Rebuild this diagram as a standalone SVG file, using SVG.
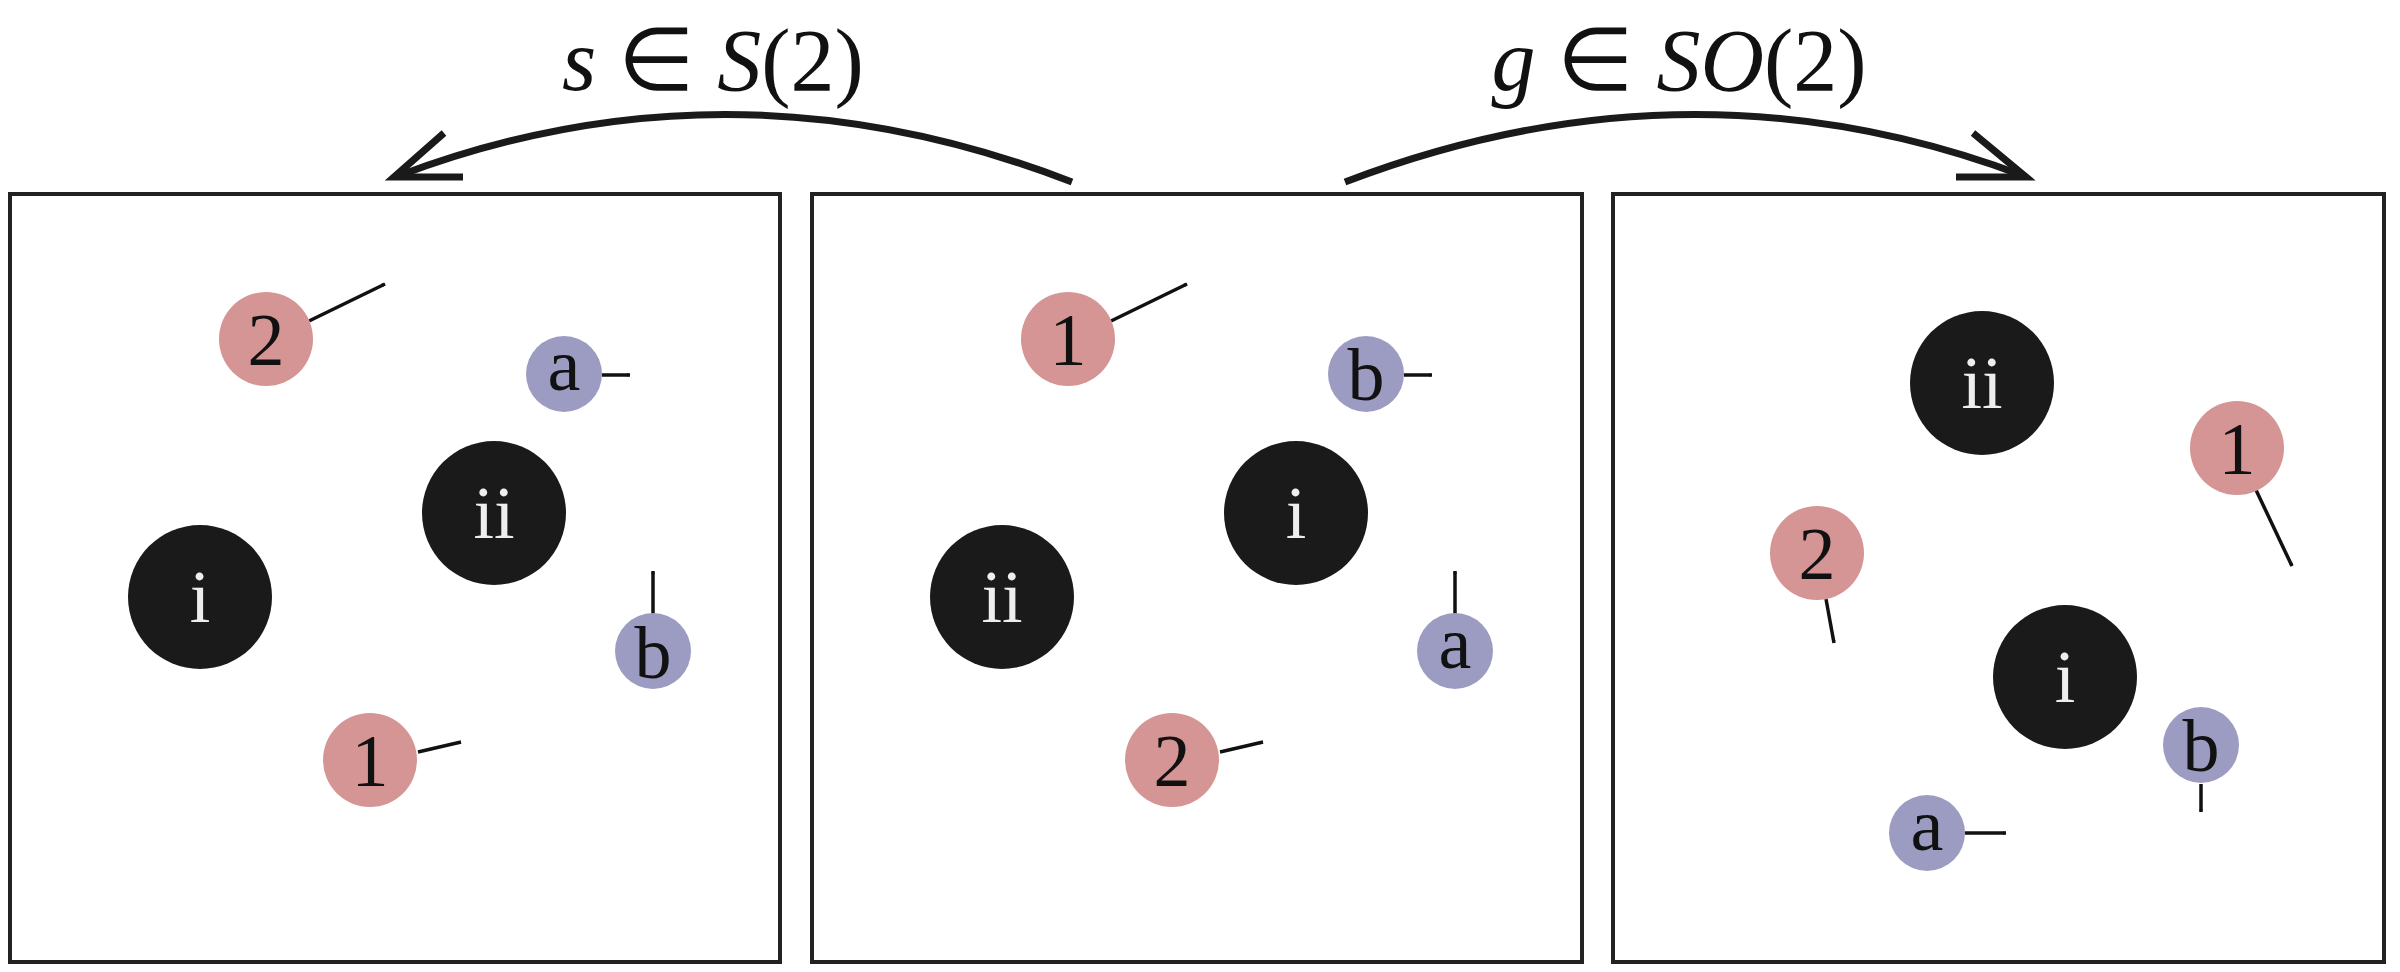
<svg xmlns="http://www.w3.org/2000/svg" width="2400" height="972" viewBox="0 0 2400 972">
<style>
.panel{fill:#fff;stroke:#222;stroke-width:4}
.pk{fill:#D49594}.bl{fill:#9C9CC2}.bk{fill:#1A1A1A}
.t{font-family:"Liberation Serif",serif;font-size:74px;text-anchor:middle;fill:#111}
.w{fill:#eee}
.v{stroke:#111;stroke-width:3.5;fill:none;marker-end:url(#ah)}
.big{stroke:#1a1a1a;stroke-width:7;fill:none}
.lab{font-family:"Liberation Serif",serif;font-size:88px;fill:#111;text-anchor:middle}
</style>
<defs>
<marker id="ah" viewBox="0 0 10 10" refX="9" refY="5" markerWidth="4" markerHeight="4" orient="auto" markerUnits="userSpaceOnUse">
<path d="M2,1 L9,5 L2,9" fill="none" stroke="#111" stroke-width="2"/>
</marker>
</defs>
<rect width="2400" height="972" fill="#fff"/>
<rect class="panel" x="10" y="194" width="770" height="768"/>
<rect class="panel" x="812" y="194" width="770" height="768"/>
<rect class="panel" x="1613" y="194" width="771" height="768"/>
<g id="connectors">
<path class="big" d="M1072,182 Q731,50 398,176"/>
<path class="big" d="M444,133 L394,177 L463,177"/>
<path class="big" d="M1345,182 Q1690,50 2024,176"/>
<path class="big" d="M1973,133 L2026,177 L1956,177"/>
<text class="lab" x="713" y="90"><tspan font-style="italic">s</tspan> ∈ <tspan font-style="italic">S</tspan>(2)</text>
<text class="lab" x="1679" y="90"><tspan font-style="italic">g</tspan> ∈ <tspan font-style="italic">SO</tspan>(2)</text>
<!-- panel 1 -->
<path class="v" d="M309,321 L385,284"/>
<path class="v" d="M602,375 L630,375"/>
<path class="v" d="M653,614 L653,571"/>
<path class="v" d="M418,752 L461,742"/>
<!-- panel 2 -->
<path class="v" d="M1111,321 L1187,284"/>
<path class="v" d="M1404,375 L1432,375"/>
<path class="v" d="M1455,614 L1455,571"/>
<path class="v" d="M1220,752 L1263,742"/>
<!-- panel 3 -->
<path class="v" d="M2256,490 L2292,566"/>
<path class="v" d="M1826,599 L1834,643"/>
<path class="v" d="M2201,784 L2201,812"/>
<path class="v" d="M1965,833 L2006,833"/>
</g>
<g id="p1-2"><circle class="pk" cx="266" cy="339" r="47"/><text class="t" x="266" y="365">2</text></g>
<g id="p1-a"><circle class="bl" cx="564" cy="374" r="38"/><text class="t" x="564" y="390">a</text></g>
<g id="p1-ii"><circle class="bk" cx="494" cy="513" r="72"/><text class="t w" x="494" y="538">ii</text></g>
<g id="p1-i"><circle class="bk" cx="200" cy="597" r="72"/><text class="t w" x="200" y="622">i</text></g>
<g id="p1-b"><circle class="bl" cx="653" cy="651" r="38"/><text class="t" x="653" y="678">b</text></g>
<g id="p1-1"><circle class="pk" cx="370" cy="760" r="47"/><text class="t" x="370" y="786">1</text></g>
<g id="p2-1"><circle class="pk" cx="1068" cy="339" r="47"/><text class="t" x="1068" y="365">1</text></g>
<g id="p2-b"><circle class="bl" cx="1366" cy="374" r="38"/><text class="t" x="1366" y="400">b</text></g>
<g id="p2-i"><circle class="bk" cx="1296" cy="513" r="72"/><text class="t w" x="1296" y="538">i</text></g>
<g id="p2-ii"><circle class="bk" cx="1002" cy="597" r="72"/><text class="t w" x="1002" y="622">ii</text></g>
<g id="p2-a"><circle class="bl" cx="1455" cy="651" r="38"/><text class="t" x="1455" y="668">a</text></g>
<g id="p2-2"><circle class="pk" cx="1172" cy="760" r="47"/><text class="t" x="1172" y="786">2</text></g>
<g id="p3-ii"><circle class="bk" cx="1982" cy="383" r="72"/><text class="t w" x="1982" y="408">ii</text></g>
<g id="p3-1"><circle class="pk" cx="2237" cy="448" r="47"/><text class="t" x="2237" y="474">1</text></g>
<g id="p3-2"><circle class="pk" cx="1817" cy="553" r="47"/><text class="t" x="1817" y="579">2</text></g>
<g id="p3-i"><circle class="bk" cx="2065" cy="677" r="72"/><text class="t w" x="2065" y="702">i</text></g>
<g id="p3-b"><circle class="bl" cx="2201" cy="745" r="38"/><text class="t" x="2201" y="771">b</text></g>
<g id="p3-a"><circle class="bl" cx="1927" cy="833" r="38"/><text class="t" x="1927" y="850">a</text></g>
</svg>
